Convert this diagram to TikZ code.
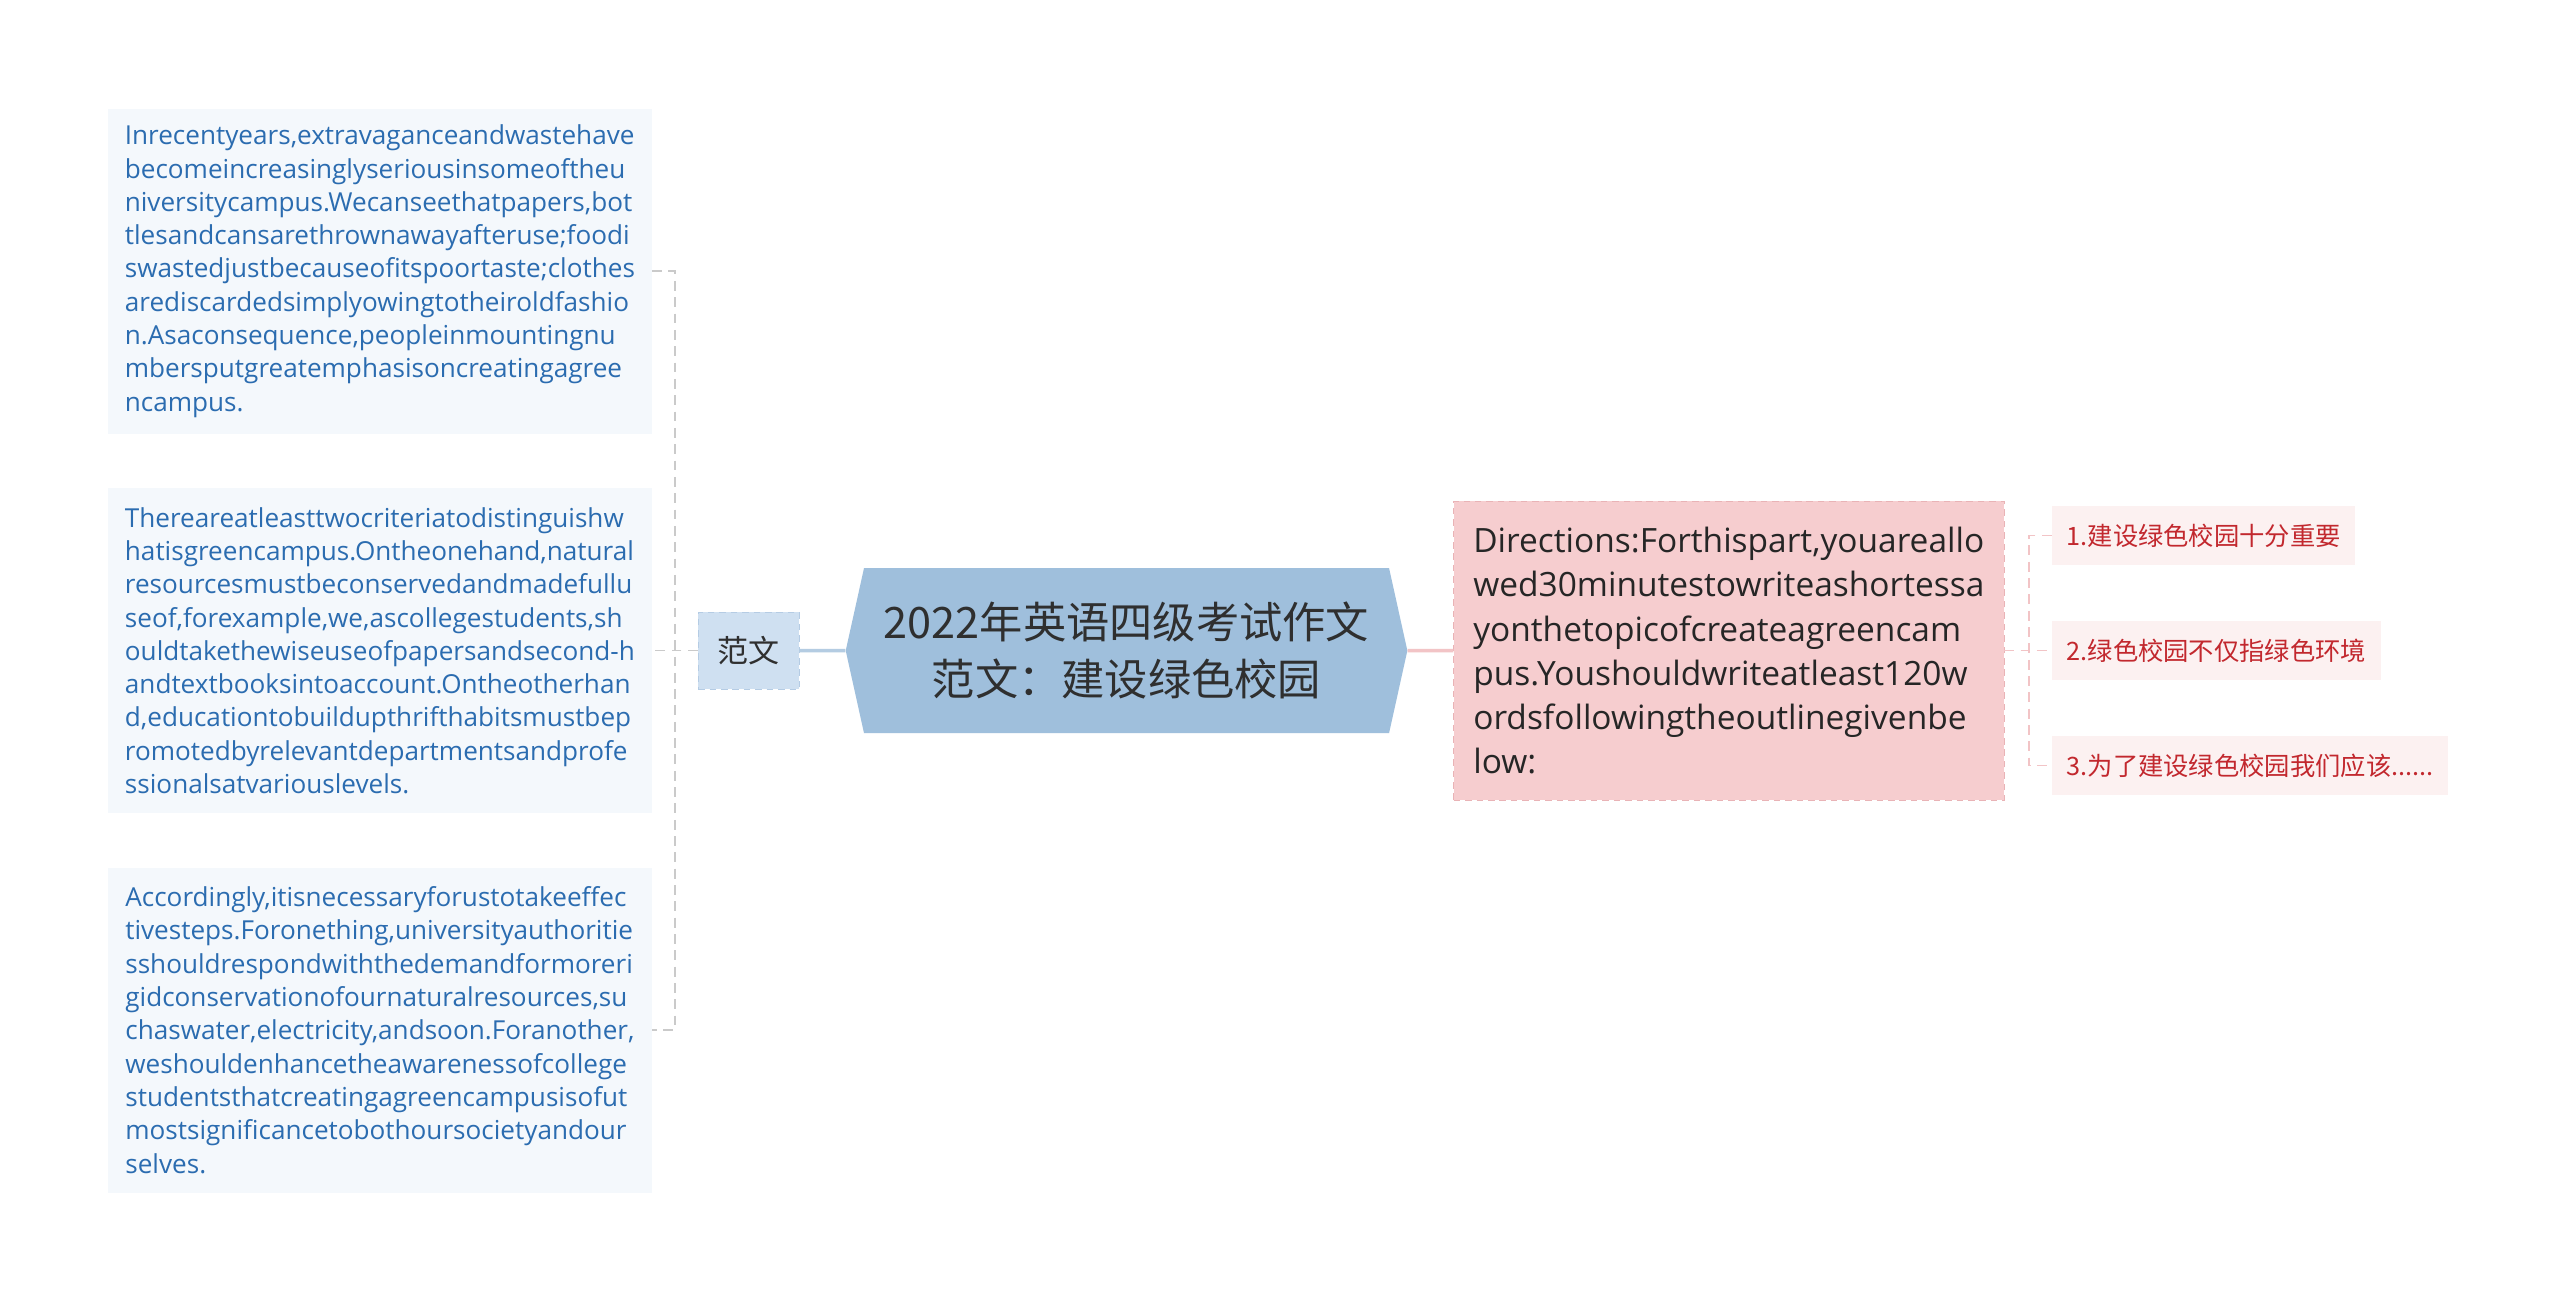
\documentclass[tikz,border=0pt]{standalone}
\usepackage{fontspec}
\setmainfont{Open Sans}
\newfontfamily\cjk{Noto Sans CJK SC}
\usepackage{tikz}
\usetikzlibrary{positioning, shapes.symbols}

\definecolor{essayfill}{HTML}{F4F8FC}
\definecolor{essaytext}{HTML}{2B6CB0}
\definecolor{forkgrey}{HTML}{CACACA}
\definecolor{fanwenfill}{HTML}{CFE0F1}
\definecolor{fanwenline}{HTML}{B5CCE4}
\definecolor{titlefill}{HTML}{9FBFDC}
\definecolor{titletext}{HTML}{2F2F2F}
\definecolor{bluelink}{HTML}{B4CCE2}
\definecolor{pinklink}{HTML}{F2C4C6}
\definecolor{promptfill}{HTML}{F6CDCF}
\definecolor{promptline}{HTML}{E9B3B6}
\definecolor{pointfill}{HTML}{FCF1F1}
\definecolor{pointtext}{HTML}{C2282E}

\tikzstyle{essay} = [rectangle, fill=essayfill, text=essaytext, align=left, minimum width=333pt, minimum height=199pt, font=\fontsize{16}{20.4}\selectfont]
\tikzstyle{topic} = [signal, signal to=west and east, signal pointer angle=155, fill=titlefill, text=titletext, align=center, minimum width=344pt, minimum height=101pt, font=\cjk\fontsize{26.5}{35}\selectfont]
\tikzstyle{subtopic} = [rectangle, fill=fanwenfill, draw=fanwenline, dash pattern=on 4pt off 3pt, text=titletext, minimum width=62pt, minimum height=47pt, font=\cjk\fontsize{19}{22}\selectfont]
\tikzstyle{prompt} = [rectangle, fill=promptfill, draw=promptline, dash pattern=on 4pt off 3pt, text=black!85, align=left, minimum width=337pt, minimum height=183pt, font=\fontsize{20.5}{27}\selectfont]
\tikzstyle{pointbox} = [rectangle, fill=pointfill, text=pointtext, inner xsep=9pt, minimum height=36pt, font=\cjk\fontsize{15.5}{18}\selectfont]
\tikzstyle{lbranch} = [draw=forkgrey, line width=1pt, dash pattern=on 6pt off 4pt]
\tikzstyle{rbranch} = [draw=pinklink, line width=1pt, dash pattern=on 6pt off 4pt]

\begin{document}
\begin{tikzpicture}[x=1pt, y=-1pt]
		\useasboundingbox[fill=white] (0,0) rectangle (1568,798);

		% Main topic
		\node [topic] (title) at (690,398.5) {2022年英语四级考试作文\\范文：建设绿色校园};

		% Sample essay
		\node [subtopic, left=28pt of title] (fanwen) {范文};
		\node [essay, left=28pt of fanwen] (essay2) {Thereareatleasttwocriteriatodistinguishw\\hatisgreencampus.Ontheonehand,natural\\resourcesmustbeconservedandmadefullu\\seof,forexample,we,ascollegestudents,sh\\ouldtakethewiseuseofpapersandsecond-h\\andtextbooksintoaccount.Ontheotherhan\\d,educationtobuildupthrifthabitsmustbep\\romotedbyrelevantdepartmentsandprofe\\ssionalsatvariouslevels.};
		\node [essay, above=33pt of essay2] (essay1) {Inrecentyears,extravaganceandwastehave\\becomeincreasinglyseriousinsomeoftheu\\niversitycampus.Wecanseethatpapers,bot\\tlesandcansarethrownawayafteruse;foodi\\swastedjustbecauseofitspoortaste;clothes\\arediscardedsimplyowingtotheiroldfashio\\n.Asaconsequence,peopleinmountingnu\\mbersputgreatemphasisoncreatingagree\\ncampus.};
		\node [essay, below=33pt of essay2] (essay3) {Accordingly,itisnecessaryforustotakeeffec\\tivesteps.Foronething,universityauthoritie\\sshouldrespondwiththedemandformoreri\\gidconservationofournaturalresources,su\\chaswater,electricity,andsoon.Foranother,\\weshouldenhancetheawarenessofcollege\\studentsthatcreatingagreencampusisofut\\mostsignificancetobothoursocietyandour\\selves.};
		\coordinate [left=14pt of fanwen.west] (lfork);

		% Directions and outline
		\node [prompt, right=28pt of title] (directions) {Directions:Forthispart,youareallo\\wed30minutestowriteashortessa\\yonthetopicofcreateagreencam\\pus.Youshouldwriteatleast120w\\ordsfollowingtheoutlinegivenbe\\low:};
		\node [pointbox, right=29pt of directions] (point2) {2.绿色校园不仅指绿色环境};
		\node [pointbox, above=34pt of point2.north west, anchor=south west] (point1) {1.建设绿色校园十分重要};
		\node [pointbox, below=34pt of point2.south west, anchor=north west] (point3) {3.为了建设绿色校园我们应该......};
		\coordinate [right=15pt of directions.east] (rfork);

		\draw[bluelink, line width=2pt] (title) -- (fanwen);
		\draw[pinklink, line width=2pt] (title) -- (directions);
		\draw[lbranch] (fanwen) -- (essay2);
		\draw[lbranch] (essay1.east) -| (lfork) |- (essay3.east);
		\draw[rbranch] (directions) -- (point2.west);
		\draw[rbranch] (point1.west) -| (rfork) |- (point3.west);
	\end{tikzpicture}
\end{document}
